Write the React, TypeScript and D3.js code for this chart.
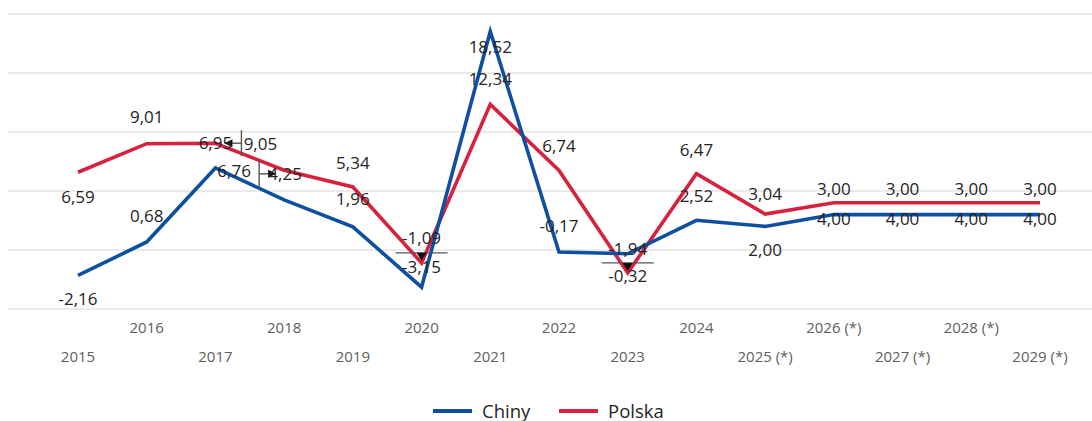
import React from "react";
import * as d3 from "d3";

const years = ["2015","2016","2017","2018","2019","2020","2021","2022","2023","2024","2025 (*)","2026 (*)","2027 (*)","2028 (*)","2029 (*)"];
const chiny = [-2.16, 0.68, 6.95, 4.25, 1.96, -3.15, 18.52, -0.17, -0.32, 2.52, 2.0, 3.0, 3.0, 3.0, 3.0];
const polska = [6.59, 9.01, 9.05, 6.76, 5.34, -1.09, 12.34, 6.74, -1.94, 6.47, 3.04, 4.0, 4.0, 4.0, 4.0];
const gridValues = [-5, 0, 5, 10, 15, 20];

// label placement (collision-avoided positions, relative to the point)
const chinyLabelDx = [0, 0, 0, 1, 0, 0, 0, 0, 0, 0, 0, 0, 0, 0, 0];
const chinyLabelDy = [23, -26, -25, -26, -28, -21, 15, -27, 22, -25, 23, -26, -26, -26, -26];
const polskaLabelDx = [0, 0, 45, -50, 0, 0, 0, 0, 0, 0, 0, 0, 0, 0, 0];
const polskaLabelDy = [24, -27, 0, 0, -24, -25, -26, -25, -24, -24, -21, 16, 16, 16, 16];

const W = 1092, H = 421;
const BLUE = "#0e4f9f";
const RED = "#d7223f";
const FONT = "'Open Sans', 'Noto Sans', sans-serif";

const fmt = (v: number) => v.toFixed(2).replace(".", ",");

export default function App() {
  const x = d3.scalePoint<string>().domain(years).range([78, 1040]);
  const y = d3.scaleLinear().domain([-5, 20]).range([309, 14]);
  const line = d3.line<number>().x((_, i) => x(years[i])!).y((d) => y(d));

  const labels: { x: number; y: number; t: string }[] = [];
  chiny.forEach((v, i) => labels.push({ x: x(years[i])! + chinyLabelDx[i], y: y(v) + chinyLabelDy[i], t: fmt(v) }));
  polska.forEach((v, i) => labels.push({ x: x(years[i])! + polskaLabelDx[i], y: y(v) + polskaLabelDy[i], t: fmt(v) }));

  // leader markers of the label collision avoidance
  const x17 = x("2017")!, x18 = x("2018")!, x20 = x("2020")!, x23 = x("2023")!;
  const yP17 = y(polska[2]), yC18 = y(chiny[3]) - 26;
  const yP20 = y(polska[5]) - 10, yP23 = y(polska[8]) - 10;

  return (
    <svg width={W} height={H} style={{ position: "absolute", left: 0, top: 0, fontFamily: FONT }}>
      <rect width={W} height={H} fill="#fff" />
      {gridValues.map((g) => (
        <line key={g} x1={8} x2={W} y1={y(g)} y2={y(g)} stroke="#e3e3e3" strokeWidth={1.6} />
      ))}
      <path d={line(polska)!} fill="none" stroke={RED} strokeWidth={3.6} strokeLinejoin="miter" />
      <path d={line(chiny)!} fill="none" stroke={BLUE} strokeWidth={3.6} strokeLinejoin="miter" />

      {/* leader marks */}
      <g stroke="#555" strokeWidth={1.4} fill="#111">
        <line x1={x17 + 26} x2={x17 + 26} y1={yP17 - 13} y2={yP17 + 13} />
        <line x1={x17 + 26} x2={x17 + 16} y1={yP17} y2={yP17} />
        <path d={`M${x17 + 9},${yP17} l8,-4 l0,8 z`} stroke="none" />
        <line x1={x18 - 25} x2={x18 - 25} y1={yC18 - 13} y2={yC18 + 14} />
        <line x1={x18 - 25} x2={x18 - 15} y1={yC18} y2={yC18} />
        <path d={`M${x18 - 8},${yC18} l-8,-4 l0,8 z`} stroke="none" />
        <line x1={x20 - 26} x2={x20 + 26} y1={yP20} y2={yP20} />
        <path d={`M${x20},${yP20 + 8} l-5,-8 l10,0 z`} stroke="none" />
        <line x1={x23 - 26} x2={x23 + 26} y1={yP23} y2={yP23} />
        <path d={`M${x23},${yP23 + 8} l-5,-8 l10,0 z`} stroke="none" />
      </g>

      {labels.map((l, i) => (
        <text key={i} x={l.x} y={l.y} textAnchor="middle" dominantBaseline="central" fontSize={17} fill="#252423">
          {l.t}
        </text>
      ))}

      {years.map((yr, i) => (
        <text key={yr} x={x(yr)!} y={i % 2 === 0 ? 356 : 327} textAnchor="middle" dominantBaseline="central" fontSize={15} fill="#605e5c">
          {yr}
        </text>
      ))}

      <g>
        <line x1={433} x2={472} y1={411} y2={411} stroke={BLUE} strokeWidth={4} />
        <text x={482} y={410} dominantBaseline="central" fontSize={18.5} fill="#252423">Chiny</text>
        <line x1={559} x2={598} y1={411} y2={411} stroke={RED} strokeWidth={4} />
        <text x={608} y={410} dominantBaseline="central" fontSize={18.5} fill="#252423">Polska</text>
      </g>
    </svg>
  );
}
